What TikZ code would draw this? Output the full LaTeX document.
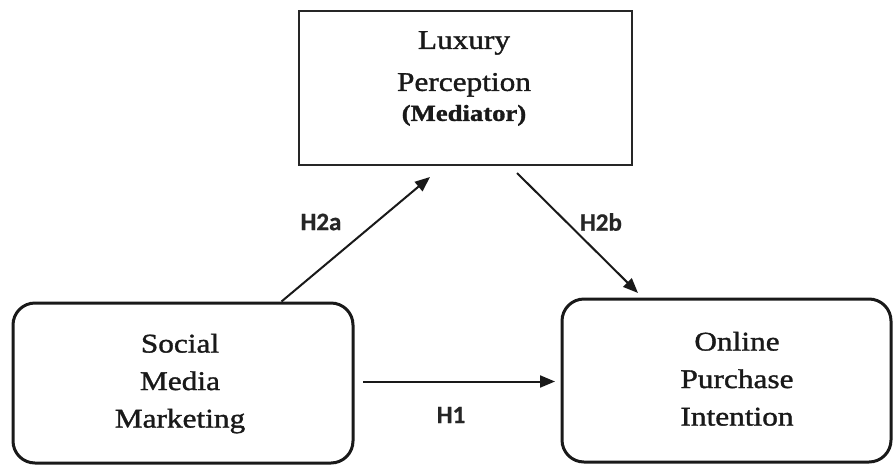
\documentclass[tikz,border=0pt]{standalone}
\usepackage{fontspec}
\usetikzlibrary{arrows.meta,calc}
\newfontfamily\boxfont[FakeStretch=1.16,FakeBold=1.3]{Liberation Serif}
\newfontfamily\hypfont[FakeBold=0.6]{Carlito}
\begin{document}
\begin{tikzpicture}[x=1pt,y=-1pt,
  squarebox/.style={draw=black!85, line width=2pt, minimum width=333.5pt, minimum height=154pt, inner sep=0pt},
  roundbox/.style={draw=black!90, line width=3pt, rounded corners=22pt, inner sep=0pt},
  boxtext/.style={font=\boxfont\fontsize{27}{37.5}\selectfont, align=center, inner sep=0pt, anchor=north, text=black!90},
  hyplabel/.style={font=\hypfont\bfseries\fontsize{25}{30}\selectfont, inner sep=0pt, text=black!85},
  link/.style={line width=2pt, draw=black!90, -{Triangle[length=15pt,width=12pt]}}]

% canvas
\fill[white] (0,0) rectangle (893,466);
\useasboundingbox (0,0) rectangle (893,466);

% construct boxes
\node[squarebox] (lp) at (465.25,87.5) {};
\node[roundbox, minimum width=340pt, minimum height=160pt] (smm) at (183,383) {};
\node[roundbox, minimum width=329pt, minimum height=163pt] (opi) at (726.5,380.5) {};

% box captions
\node[boxtext] (lpText) at (464,31) {Luxury\\[4.5pt]Perception\\[-7.5pt]{\bfseries\fontsize{23}{26}\selectfont (Mediator)}};
\node[boxtext] (smmText) at (180,333.6) {Social\\Media\\Marketing};
\node[boxtext] (opiText) at (737,331.6) {Online\\Purchase\\Intention};

% hypothesised paths
\draw[link] ($(smm.north west)+(270,0)$) -- ($(lp.south west)+(132.5,11.5)$);
\draw[link] ($(lp.south west)+(219.5,7.5)$) -- ($(opi.north west)+(77.5,-4.5)$);
\draw[link] ($(smm.east)+(8.5,-1.5)$) -- ($(opi.west)+(-5.5,1)$);

% hypothesis labels
\node[hyplabel] (h2a) at (321,222) {H2a};
\node[hyplabel] (h2b) at (601,222) {H2b};
\node[hyplabel] (h1) at (451,415) {H1};
\end{tikzpicture}
\end{document}
